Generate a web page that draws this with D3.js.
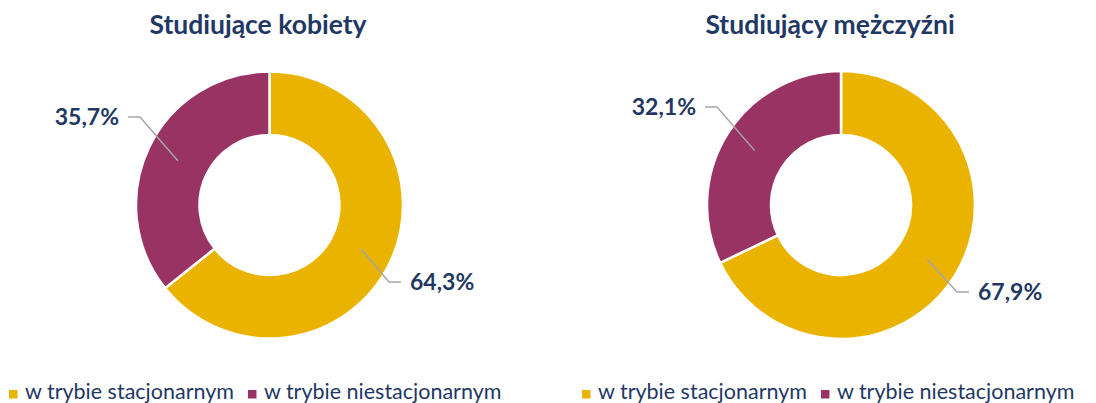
<!DOCTYPE html>
<html lang="pl">
<head>
<meta charset="utf-8">
<script src="https://cdn.jsdelivr.net/npm/d3@7"></script>
<style>
    body { margin: 0; background: #fff; }
    svg { display: block; font-family: Lato, "Noto Sans", sans-serif; }
</style>
</head>
<body>
<div id="chart"></div>
<script>
// data
const categories = ["w trybie stacjonarnym", "w trybie niestacjonarnym"];
const chartTitles = ["Studiujące kobiety", "Studiujący mężczyźni"];
const womenValues = [64.3, 35.7];
const menValues = [67.9, 32.1];

const colors = ["#E9B300", "#983363"];
const navy = "#1F3864";

class Donut {
    constructor(svg, opts) {
        this.svg = svg;
        this.opts = opts;
        this.draw();
    }

    draw() {
        let viz = this;
        const o = viz.opts;
        const g = viz.svg.append("g")
            .attr("transform", "translate(" + o.cx + "," + o.cy + ")");

        const pie = d3.pie().sort(null).value(d => d.value);
        const arc = d3.arc().innerRadius(o.inner).outerRadius(o.outer);
        const mid = d3.arc().innerRadius((o.inner + o.outer) / 2).outerRadius((o.inner + o.outer) / 2);

        const arcs = pie(o.values.map((v, i) => ({ value: v, cat: categories[i] })));

        g.selectAll("path.slice")
            .data(arcs)
            .enter().append("path")
            .attr("class", "slice")
            .attr("d", arc)
            .attr("fill", (d, i) => colors[i])
            .attr("stroke", "#fff")
            .attr("stroke-width", 2.5);

        // leader lines + labels
        arcs.forEach((d, i) => {
            const c = mid.centroid(d);
            const elbow = o.elbows[i];
            const dir = elbow[0] < 0 ? -1 : 1;
            const end = [elbow[0] + dir * 12, elbow[1]];
            g.append("polyline")
                .attr("points", [c, elbow, end].map(p => p.join(",")).join(" "))
                .attr("fill", "none")
                .attr("stroke", "#A6A6A6")
                .attr("stroke-width", 1.5);
            g.append("text")
                .attr("x", end[0] + dir * 9)
                .attr("y", end[1])
                .attr("dy", "0.36em")
                .attr("text-anchor", dir < 0 ? "end" : "start")
                .attr("fill", navy)
                .attr("font-weight", "bold")
                .attr("font-size", 23)
                .text(d3.format(".1f")(d.data.value).replace(".", ",") + "%");
        });

        viz.svg.append("text")
            .attr("x", o.titleX)
            .attr("y", 34)
            .attr("text-anchor", "middle")
            .attr("fill", navy)
            .attr("font-weight", "bold")
            .attr("font-size", 26.5)
            .text(o.title);

        // legend
        const lg = viz.svg.append("g")
            .attr("transform", "translate(" + o.legendX + ",399)");
        let x = 0;
        categories.forEach((cat, i) => {
            lg.append("rect")
                .attr("x", x)
                .attr("y", -9)
                .attr("width", 8.5)
                .attr("height", 8.5)
                .attr("fill", colors[i]);
            const t = lg.append("text")
                .attr("x", x + 16)
                .attr("y", 0)
                .attr("fill", navy)
                .attr("font-size", 21.5)
                .text(cat);
            x += 16 + t.node().getComputedTextLength() + 14;
        });
    }
}

const svg = d3.select("#chart").append("svg")
    .attr("width", 1096)
    .attr("height", 403);

new Donut(svg, {
    values: womenValues, title: chartTitles[0],
    cx: 269.5, cy: 205, outer: 133.5, inner: 70,
    titleX: 258, legendX: 9,
    elbows: [[119.5, 77], [-129.5, -88]]
});

new Donut(svg, {
    values: menValues, title: chartTitles[1],
    cx: 841, cy: 205, outer: 134, inner: 70,
    titleX: 830, legendX: 582,
    elbows: [[116, 87], [-124, -98]]
});
</script>
</body>
</html>
